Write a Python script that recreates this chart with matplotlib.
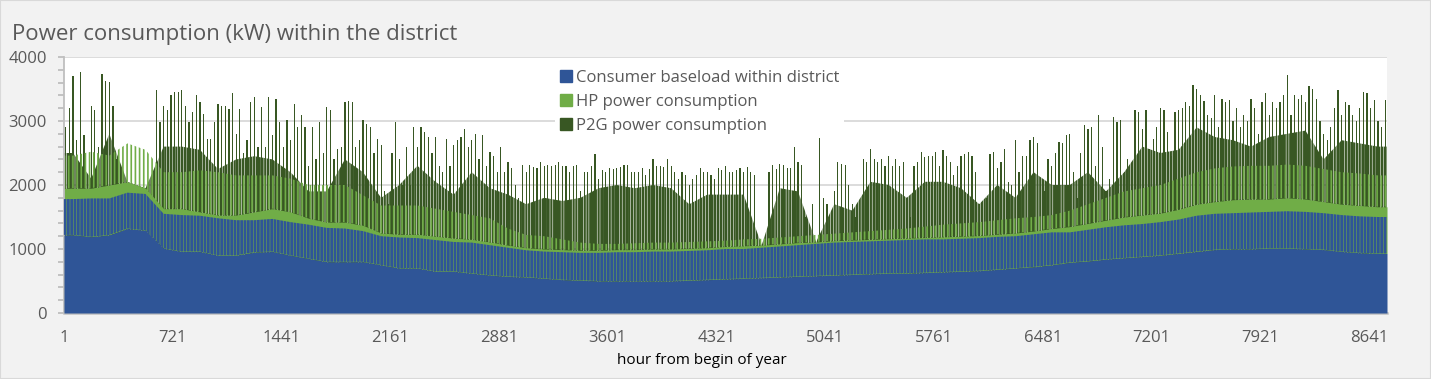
import numpy as np
import matplotlib
matplotlib.use("Agg")
import matplotlib.pyplot as plt
from matplotlib.lines import Line2D
from matplotlib.patches import Rectangle
from matplotlib.ticker import MultipleLocator

# ---- data (kW) ----
# 5-day blocks (73 blocks x 120 hours)
base_lo = [1220, 1190, 1220, 1320, 1290, 1010, 960, 960, 900, 900,
           950, 960, 900, 850, 800, 800, 800, 750, 700, 700,
           650, 650, 620, 590, 570, 560, 540, 520, 510, 500,
           500, 500, 500, 500, 510, 520, 530, 540, 550, 560,
           570, 580, 590, 600, 610, 620, 620, 630, 640, 650,
           660, 680, 700, 720, 750, 790, 810, 840, 860, 880,
           900, 930, 960, 990, 1000, 1000, 1010, 1010, 1000, 990,
           960, 940, 930]
base_hi = [1780, 1790, 1790, 1880, 1860, 1550, 1530, 1520, 1480, 1450,
           1450, 1470, 1420, 1380, 1330, 1320, 1280, 1200, 1180, 1170,
           1140, 1110, 1100, 1060, 1020, 980, 960, 950, 940, 940,
           950, 950, 960, 960, 970, 980, 1000, 1000, 1020, 1040,
           1060, 1080, 1100, 1110, 1120, 1130, 1140, 1150, 1150, 1160,
           1170, 1190, 1200, 1230, 1260, 1260, 1300, 1340, 1370, 1390,
           1420, 1460, 1520, 1550, 1560, 1570, 1580, 1590, 1580, 1560,
           1530, 1510, 1500]
hp_lo = [1950, 1950, 2000, 2050, 1950, 1630, 1630, 1580, 1530, 1530,
         1580, 1630, 1580, 1480, 1420, 1420, 1370, 1250, 1230, 1230,
         1200, 1170, 1150, 1110, 1060, 1020, 1000, 990, 980, 980,
         990, 990, 1000, 1000, 1010, 1020, 1040, 1050, 1060, 1080,
         1100, 1110, 1130, 1140, 1150, 1160, 1170, 1180, 1190, 1200,
         1210, 1230, 1250, 1280, 1320, 1350, 1400, 1450, 1500, 1530,
         1560, 1620, 1700, 1740, 1770, 1780, 1780, 1800, 1780, 1740,
         1700, 1680, 1660]
hp_hi = [2460, 2520, 2460, 2650, 2550, 2200, 2200, 2230, 2200, 2150,
         2150, 2150, 2100, 2000, 2000, 2000, 1840, 1680, 1680, 1680,
         1630, 1580, 1530, 1480, 1320, 1220, 1200, 1150, 1100, 1080,
         1080, 1090, 1100, 1100, 1110, 1120, 1130, 1150, 1160, 1180,
         1200, 1220, 1240, 1260, 1280, 1300, 1320, 1350, 1380, 1400,
         1420, 1450, 1480, 1500, 1530, 1600, 1700, 1800, 1900, 1950,
         2000, 2100, 2200, 2260, 2290, 2300, 2300, 2320, 2300, 2250,
         2200, 2180, 2150]
# top of the dense P2G band (0 = no P2G in that block)
p2g_lo = [2500, 2100, 2800, 0, 0, 2600, 2600, 2550, 2250, 2400,
          2450, 2400, 2200, 1900, 1900, 2400, 2200, 1800, 2000, 2300,
          2050, 1850, 2200, 1950, 1850, 1700, 1800, 1750, 1800, 1950,
          2000, 1950, 2000, 1950, 1700, 1850, 1850, 1850, 0, 1950,
          1900, 0, 1700, 1600, 2050, 2000, 1800, 2050, 2050, 1950,
          1700, 2000, 1800, 2200, 2000, 2000, 2200, 1900, 2200, 2600,
          2500, 2550, 2900, 2750, 2700, 2600, 2750, 2800, 2850, 2400,
          2700, 2650, 2600]
# daily peak of total consumption incl. P2G (0 = no P2G that day)
p2g_peak = [
    2900, 3200, 3700, 2700, 3760, 2780, 0, 3240, 3170, 2600,
    3740, 3630, 3610, 3240, 2400, 0, 0, 0, 0, 0,
    0, 0, 0, 0, 0, 3480, 2980, 3240, 3170, 3400,
    3450, 3450, 3480, 3240, 2980, 3140, 3400, 3300, 3110, 2720,
    2720, 2980, 3270, 3240, 3240, 3190, 3430, 2800, 3190, 2500,
    2700, 3300, 3370, 2600, 3220, 2600, 3370, 2780, 3350, 2980,
    2600, 3010, 2700, 3270, 2900, 3090, 2900, 2300, 2900, 2400,
    2980, 2500, 3220, 3170, 2400, 2570, 2600, 3300, 3320, 3300,
    2600, 2700, 3010, 2960, 2900, 2500, 2720, 2620, 1900, 1700,
    2500, 2980, 2400, 2000, 2600, 2000, 2900, 2600, 2900, 2830,
    2750, 2500, 2750, 2300, 2200, 2720, 2300, 2620, 2700, 2750,
    2880, 2600, 2700, 2800, 2400, 2780, 2300, 2520, 2460, 2200,
    2600, 2200, 2360, 2260, 2000, 1800, 2310, 2200, 2310, 2280,
    2260, 2360, 2300, 2310, 2300, 2310, 2360, 2300, 2300, 2200,
    2300, 2310, 1900, 2200, 2200, 2300, 2490, 2100, 2230, 2200,
    2260, 2250, 2270, 2280, 2310, 2310, 2200, 2200, 2200, 2260,
    2150, 2250, 2410, 2300, 2300, 2280, 2410, 2300, 2200, 2100,
    2200, 2150, 2000, 2100, 2150, 2260, 2200, 2200, 2150, 2100,
    2260, 2230, 2300, 2200, 2200, 2230, 2260, 2200, 2280, 2200,
    2150, 0, 0, 0, 2200, 2310, 2250, 2330, 2310, 2260,
    2260, 2600, 2360, 2310, 1500, 0, 1700, 0, 2780, 1800,
    1700, 0, 1900, 2360, 2330, 2310, 2000, 1700, 1500, 0,
    2410, 2360, 2570, 2410, 2360, 2400, 2300, 2460, 2300, 2410,
    2300, 2360, 1700, 1500, 2300, 2360, 2520, 2440, 2460, 2460,
    2520, 2300, 2540, 2460, 2360, 2150, 2300, 2460, 2490, 2520,
    2460, 2200, 1700, 0, 1800, 2490, 2520, 2260, 2360, 2570,
    2050, 2000, 2700, 2200, 2460, 2460, 2700, 2750, 2650, 1700,
    1900, 2410, 2300, 2500, 2670, 2650, 2780, 2800, 2200, 1800,
    2500, 2930, 2880, 2900, 2300, 3090, 2600, 1900, 2100, 3060,
    2980, 3010, 2200, 2400, 2000, 3170, 3140, 2880, 3170, 2570,
    2720, 2900, 3200, 3170, 2830, 2460, 3140, 3170, 3200, 3300,
    3240, 3560, 3500, 3400, 3320, 3090, 3040, 3400, 2900, 3350,
    3300, 3330, 3000, 3200, 2900, 3100, 3000, 3350, 3200, 2800,
    3300, 3430, 3100, 3300, 3200, 3300, 3400, 3720, 3100, 3400,
    3350, 3400, 3300, 3540, 3500, 3350, 3000, 2800, 2700, 2900,
    3200, 3480, 3100, 3300, 3250, 3100, 3000, 3200, 3460, 3430,
    3200, 3330, 3000, 2900, 3330]

tick_hours = [1, 721, 1441, 2161, 2881, 3601, 4321, 5041, 5761, 6481, 7201, 7921, 8641]
labels = ["Consumer baseload within district", "HP power consumption", "P2G power consumption"]

c_base = "#2F5597"
c_hp = "#70AD47"
c_p2g = "#385723"
gray_txt = "#595959"

plt.rcParams['font.family'] = ['Open Sans', 'DejaVu Sans']

fig = plt.figure(figsize=(14.31, 3.79), dpi=100, facecolor="#F2F2F2")
ax = fig.add_axes([64 / 1431, 1 - 313 / 379, (1387 - 64) / 1431, (313 - 57) / 379])
ax.set_facecolor("white")

# block centres in hours, padded to both ends of the year
xs = np.r_[0.5, np.arange(len(base_lo)) * 120 + 60.5, 8760.5]
def pad(v):
    v = np.asarray(v, dtype=float)
    return np.r_[v[0], v, v[-1]]

days = np.arange(len(p2g_peak))
dense = np.maximum(p2g_lo, hp_lo)

# P2G: daily spikes + dense band
ax.bar(days * 24 + 12.5, p2g_peak, width=8, color=c_p2g, linewidth=0, zorder=1)
plt.rcParams['hatch.linewidth'] = 1.6
ax.fill_between(xs, 0, pad(dense), facecolor='none', edgecolor=c_p2g,
                hatch='||||||', lw=0, zorder=1)
# HP band
ax.fill_between(xs, pad(base_lo), pad(hp_lo), color=c_hp, lw=0, zorder=2)
plt.rcParams['hatch.linewidth'] = 1.2
ax.fill_between(xs, pad(hp_lo), pad(hp_hi), facecolor='none',
                edgecolor=c_hp, hatch='||||', lw=0, zorder=2.5)
# baseload
ax.fill_between(xs, 0, pad(base_lo), color=c_base, lw=0, zorder=3)
plt.rcParams['hatch.linewidth'] = 2.0
ax.fill_between(xs, pad(base_lo), pad(base_hi), facecolor='none',
                edgecolor=c_base, hatch='|||||', lw=0, zorder=3)

ax.set_xlim(0.5, 8760.5)
ax.set_ylim(0, 4000)
ax.set_xticks(tick_hours)
ax.set_xticklabels([str(t) for t in tick_hours])
ax.yaxis.set_major_locator(MultipleLocator(1000))
ax.yaxis.set_minor_locator(MultipleLocator(200))
ax.tick_params(axis='x', length=0, pad=12, labelsize=12, labelcolor=gray_txt)
ax.tick_params(axis='y', which='both', length=4.5, width=1.3, color="#BFBFBF",
               pad=8, labelsize=12, labelcolor=gray_txt)
ax.yaxis.grid(True, color="#D9D9D9", lw=1.3)
ax.set_axisbelow(True)
for s in ['top', 'right']:
    ax.spines[s].set_visible(False)
ax.spines['left'].set_color("#BFBFBF")
ax.spines['left'].set_linewidth(1.3)
ax.spines['bottom'].set_color("#BFBFBF")
ax.spines['bottom'].set_linewidth(1.8)

handles = [Line2D([], [], marker='s', linestyle='', markersize=8, color=c)
           for c in (c_base, c_hp, c_p2g)]
leg = ax.legend(handles, labels, loc='upper left', bbox_to_anchor=(0.365, 1.0),
                frameon=True, facecolor='white', edgecolor='none', framealpha=1,
                fontsize=12, labelspacing=0.5, handletextpad=0.2, borderpad=0.25,
                handlelength=0.8)
for t in leg.get_texts():
    t.set_color(gray_txt)
leg.set_zorder(5)

fig.text(12 / 1431, 1 - 40 / 379, "Power consumption (kW) within the district",
         fontsize=16, color=gray_txt, va='baseline', ha='left')
fig.text(702 / 1431, 1 - 361 / 379, "hour from begin of year", fontsize=11,
         color="black", va='center', ha='center')

fig.patches.append(Rectangle((0, 0), 1, 1, transform=fig.transFigure, fill=False,
                             edgecolor="#D9D9D9", lw=1.5))

fig.savefig("out.png", dpi=100, facecolor=fig.get_facecolor())
